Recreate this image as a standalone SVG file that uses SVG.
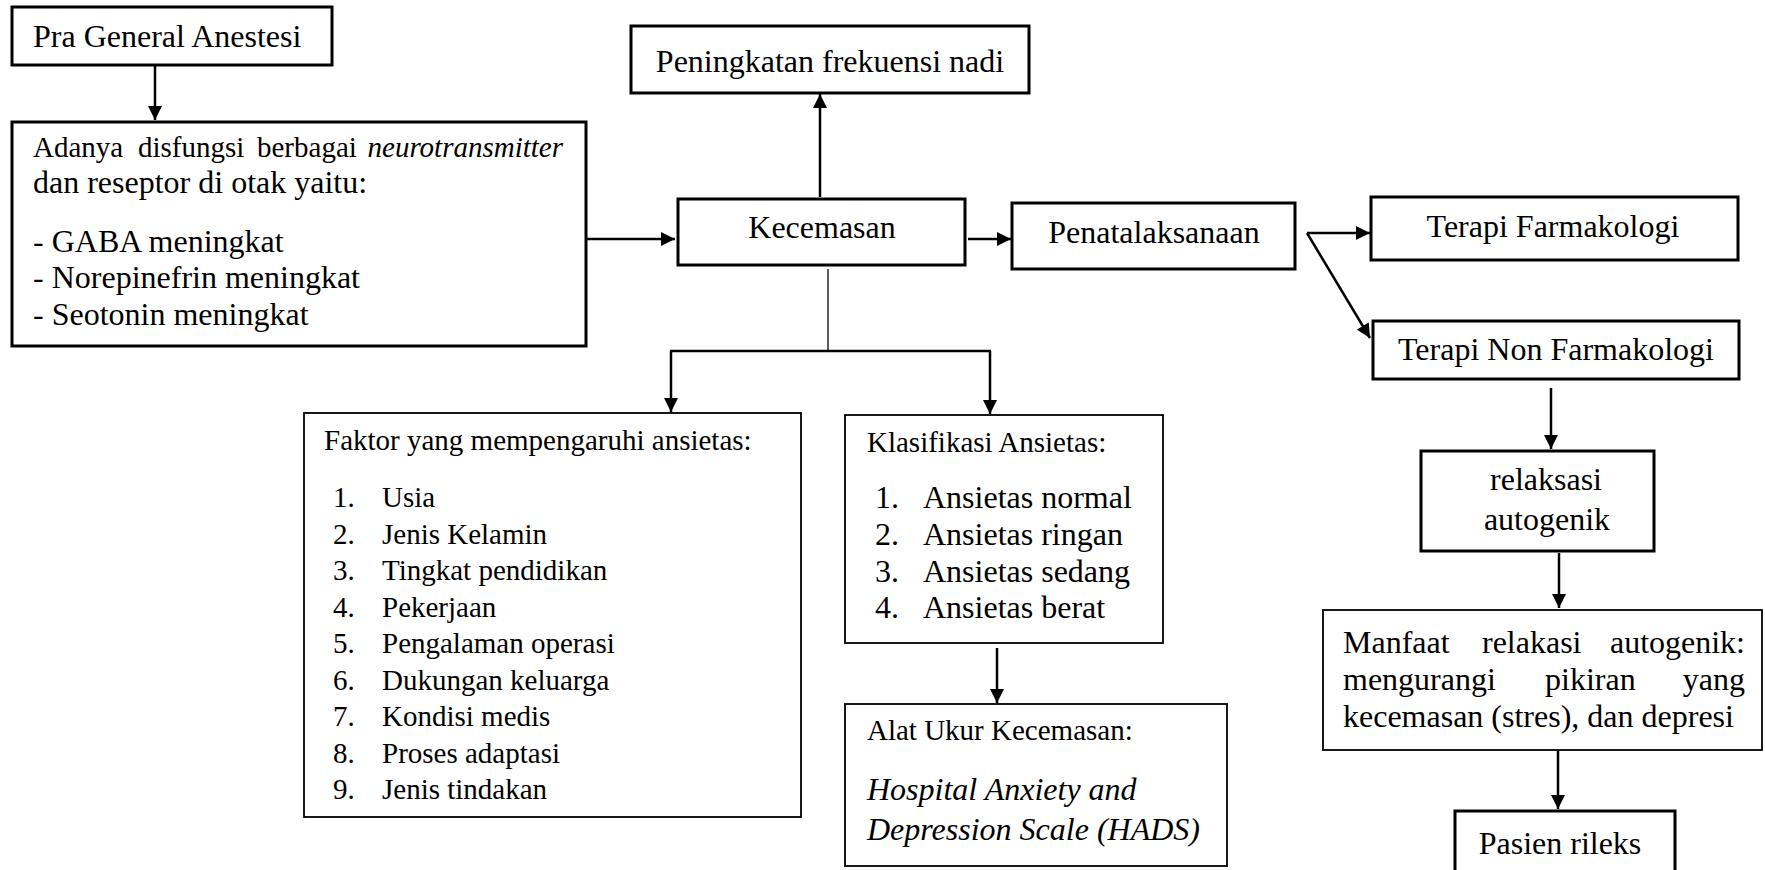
<svg xmlns="http://www.w3.org/2000/svg" width="1765" height="870" viewBox="0 0 1765 870">
<defs>
<marker id="ah" viewBox="0 0 10 10" markerUnits="userSpaceOnUse" markerWidth="15" markerHeight="14" refX="10" refY="5" orient="auto">
<path d="M0,0 L10,5 L0,10 z" fill="#000"/>
</marker>
<style>
text{font-family:'Liberation Serif','Times New Roman',serif;font-size:32px;fill:#000}
.s{font-size:29px}
.m{text-anchor:middle}
.i{font-style:italic}
.b{fill:#fff;stroke:#000;stroke-width:3}
.t{fill:#fff;stroke:#000;stroke-width:1.8}
.c{fill:none;stroke:#000;stroke-width:2.5;marker-end:url(#ah)}
</style>
</defs>
<rect width="1765" height="870" fill="#fff"/>
<g id="connectors">
<line class="c" x1="155" y1="65" x2="155" y2="120"/>
<line class="c" x1="586" y1="239" x2="675" y2="239"/>
<line class="c" x1="820" y1="197" x2="820" y2="94"/>
<line class="c" x1="968" y1="239" x2="1011" y2="239"/>
<line class="c" x1="1307" y1="233" x2="1370" y2="233"/>
<line class="c" x1="1307" y1="233" x2="1370" y2="338"/>
<line class="c" x1="1551" y1="388" x2="1551" y2="449"/>
<line class="c" x1="1559" y1="553" x2="1559" y2="608"/>
<line class="c" x1="1558" y1="751" x2="1558" y2="809"/>
<line x1="828" y1="269" x2="828" y2="351" stroke="#333" stroke-width="1.6"/>
<line x1="670" y1="351" x2="991" y2="351" stroke="#000" stroke-width="2.5"/>
<line class="c" x1="671" y1="351" x2="671" y2="412"/>
<line class="c" x1="990" y1="351" x2="990" y2="414"/>
<line class="c" x1="997" y1="648" x2="997" y2="703"/>
</g>
<g id="pra">
<rect class="b" x="12" y="7" width="320" height="58"/>
<text x="33" y="47">Pra General Anestesi</text>
</g>
<g id="disfungsi">
<rect class="b" x="12" y="122" width="574" height="224"/>
<text class="s" y="157"><tspan x="33">Adanya</tspan><tspan x="138">disfungsi</tspan><tspan x="257">berbagai</tspan><tspan class="i" x="563" text-anchor="end">neurotransmitter</tspan></text>
<text x="33" y="193">dan reseptor di otak yaitu:</text>
<text x="33" y="252">- GABA meningkat</text>
<text x="33" y="288">- Norepinefrin meningkat</text>
<text x="33" y="325">- Seotonin meningkat</text>
</g>
<g id="kecemasan">
<rect class="b" x="678" y="199" width="287" height="66"/>
<text class="m" x="822" y="238">Kecemasan</text>
</g>
<g id="nadi">
<rect class="b" x="631" y="26" width="398" height="67"/>
<text class="m" x="830" y="72">Peningkatan frekuensi nadi</text>
</g>
<g id="penatalaksanaan">
<rect class="b" x="1012" y="203" width="283" height="66"/>
<text class="m" x="1154" y="243">Penatalaksanaan</text>
</g>
<g id="farmakologi">
<rect class="b" x="1371" y="197" width="367" height="63"/>
<text class="m" x="1553" y="237">Terapi Farmakologi</text>
</g>
<g id="nonfarmakologi">
<rect class="b" x="1373" y="321" width="366" height="58"/>
<text class="m" x="1556" y="360">Terapi Non Farmakologi</text>
</g>
<g id="relaksasi">
<rect class="b" x="1421" y="451" width="233" height="100"/>
<text class="m" x="1546" y="490">relaksasi</text>
<text class="m" x="1547" y="530">autogenik</text>
</g>
<g id="manfaat">
<rect class="t" x="1323" y="610" width="439" height="140"/>
<text y="653"><tspan x="1343">Manfaat</tspan><tspan x="1482">relakasi</tspan><tspan x="1745" text-anchor="end">autogenik:</tspan></text>
<text y="690"><tspan x="1343">mengurangi</tspan><tspan x="1545">pikiran</tspan><tspan x="1745" text-anchor="end">yang</tspan></text>
<text x="1343" y="727">kecemasan (stres), dan depresi</text>
</g>
<g id="rileks">
<rect class="b" x="1455" y="811" width="220" height="70"/>
<text class="m" x="1560" y="854">Pasien rileks</text>
</g>
<g id="faktor">
<rect class="t" x="304" y="413" width="497" height="404"/>
<text class="s" x="324" y="450">Faktor yang mempengaruhi ansietas:</text>
<text class="s" x="333" y="507">1.</text><text class="s" x="382" y="507">Usia</text>
<text class="s" x="333" y="544">2.</text><text class="s" x="382" y="544">Jenis Kelamin</text>
<text class="s" x="333" y="580">3.</text><text class="s" x="382" y="580">Tingkat pendidikan</text>
<text class="s" x="333" y="617">4.</text><text class="s" x="382" y="617">Pekerjaan</text>
<text class="s" x="333" y="653">5.</text><text class="s" x="382" y="653">Pengalaman operasi</text>
<text class="s" x="333" y="690">6.</text><text class="s" x="382" y="690">Dukungan keluarga</text>
<text class="s" x="333" y="726">7.</text><text class="s" x="382" y="726">Kondisi medis</text>
<text class="s" x="333" y="763">8.</text><text class="s" x="382" y="763">Proses adaptasi</text>
<text class="s" x="333" y="799">9.</text><text class="s" x="382" y="799">Jenis tindakan</text>
</g>
<g id="klasifikasi">
<rect class="t" x="845" y="415" width="318" height="228"/>
<text class="s" x="867" y="452">Klasifikasi Ansietas:</text>
<text x="875" y="508">1.</text><text x="923" y="508">Ansietas normal</text>
<text x="875" y="545">2.</text><text x="923" y="545">Ansietas ringan</text>
<text x="875" y="582">3.</text><text x="923" y="582">Ansietas sedang</text>
<text x="875" y="618">4.</text><text x="923" y="618">Ansietas berat</text>
</g>
<g id="alatukur">
<rect class="t" x="845" y="704" width="382" height="162"/>
<text class="s" x="867" y="740">Alat Ukur Kecemasan:</text>
<text class="i" x="867" y="800">Hospital Anxiety and</text>
<text class="i" x="867" y="840">Depression Scale (HADS)</text>
</g>
</svg>
